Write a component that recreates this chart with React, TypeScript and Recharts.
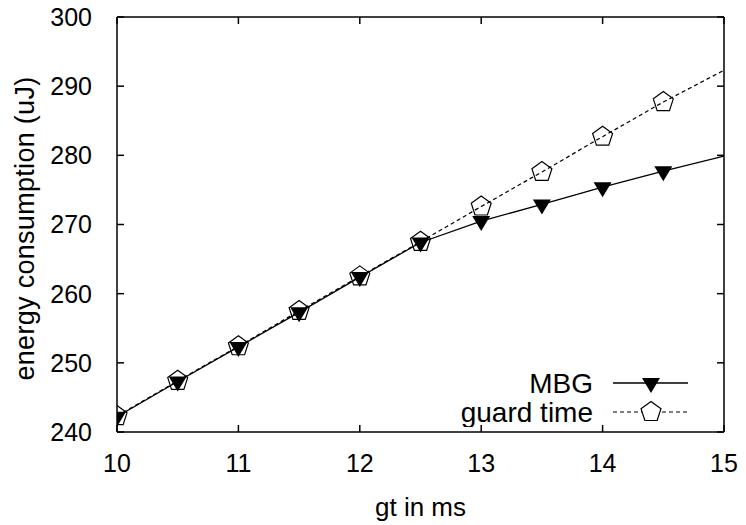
import { LineChart, Line, XAxis, YAxis, Legend } from "recharts";

// gt in ms (last row only carries the line to the border, no marker)
const gtValues = [10, 10.5, 11, 11.5, 12, 12.5, 13, 13.5, 14, 14.5, 15];
const mbgValues = [242.2, 247.3, 252.3, 257.3, 262.4, 267.4, 270.5, 272.9, 275.4, 277.7, 279.9];
const guardTimeValues = [242.3, 247.4, 252.4, 257.5, 262.5, 267.5, 272.6, 277.6, 282.7, 287.7, 292.3];
const markedPoints = 10;

const xTicks = [10, 11, 12, 13, 14, 15];
const yTicks = [240, 250, 260, 270, 280, 290, 300];
const seriesNames = ["MBG", "guard time"];
const xLabel = "gt in ms";
const yLabel = "energy consumption (uJ)";

const data = gtValues.map((gt, i) => ({
  gt,
  mbg: mbgValues[i],
  guard: guardTimeValues[i],
}));

const FONT = '"Liberation Sans", Arial, Helvetica, sans-serif';
const axisStroke = { stroke: "#000", strokeWidth: 1.5 };
const tickStyle = { fill: "#000", fontSize: 25, fontFamily: FONT };

function trianglePath(cx: number, cy: number) {
  return `M${cx - 9},${cy - 5}L${cx + 9},${cy - 5}L${cx},${cy + 10}Z`;
}

function pentagonPath(cx: number, cy: number, r = 10.5) {
  const pts = [0, 1, 2, 3, 4].map((k) => {
    const a = ((-90 + 72 * k) * Math.PI) / 180;
    return `${cx + r * Math.cos(a)},${cy + r * Math.sin(a)}`;
  });
  return `M${pts.join("L")}Z`;
}

function renderTriangle(props: any) {
  const { cx, cy, index } = props;
  if (index >= markedPoints || cx == null) return <g key={`t-${index}`} />;
  return <path key={`t-${index}`} d={trianglePath(cx, cy)} fill="#000" />;
}

function renderPentagon(props: any) {
  const { cx, cy, index } = props;
  if (index >= markedPoints || cx == null) return <g key={`p-${index}`} />;
  return <path key={`p-${index}`} d={pentagonPath(cx, cy)} fill="none" stroke="#000" strokeWidth={1.2} />;
}

function renderYLabel(props: any) {
  const vb = props.viewBox || { x: 0, y: 17, width: 117, height: 415 };
  const x = vb.x + 34;
  const y = vb.y + vb.height / 2 + 4;
  return (
    <text
      x={x}
      y={y}
      transform={`rotate(-90, ${x}, ${y})`}
      textAnchor="middle"
      fill="#000"
      fontSize={27}
      letterSpacing={0.3}
      fontFamily={FONT}
    >
      {yLabel}
    </text>
  );
}

function ChartLegend() {
  const text = { fill: "#000", fontSize: 28, fontFamily: FONT };
  return (
    <svg width={330} height={62} style={{ display: "block" }}>
      <text x={203} y={18} textAnchor="end" dominantBaseline="central" {...text}>
        {seriesNames[0]}
      </text>
      <line x1={223} x2={298} y1={18} y2={18} stroke="#000" strokeWidth={1.3} />
      <path d={trianglePath(261, 18)} fill="#000" />
      <text x={203} y={47} textAnchor="end" dominantBaseline="central" {...text}>
        {seriesNames[1]}
      </text>
      <line x1={223} x2={298} y1={47} y2={47} stroke="#000" strokeWidth={1.2} strokeDasharray="4 3" />
      <path d={pentagonPath(261, 47)} fill="#fff" stroke="#000" strokeWidth={1.2} />
    </svg>
  );
}

export default function App() {
  return (
    <div style={{ position: "absolute", left: 0, top: 0, background: "#fff" }}>
      <LineChart width={746} height={525} data={data} margin={{ top: 0, right: 0, bottom: 0, left: 0 }}>
        <XAxis
          xAxisId="bottom"
          dataKey="gt"
          type="number"
          domain={[10, 15]}
          ticks={xTicks}
          allowDataOverflow
          height={93}
          tickSize={-7}
          tickMargin={29}
          axisLine={axisStroke}
          tickLine={axisStroke}
          tick={tickStyle}
          label={{ value: xLabel, position: "insideBottom", offset: 9, fill: "#000", fontSize: 26, fontFamily: FONT }}
        />
        <XAxis
          xAxisId="top"
          orientation="top"
          dataKey="gt"
          type="number"
          domain={[10, 15]}
          ticks={xTicks}
          allowDataOverflow
          height={17}
          tickSize={-7}
          axisLine={axisStroke}
          tickLine={axisStroke}
          tick={() => <g />}
        />
        <YAxis
          yAxisId="left"
          type="number"
          domain={[240, 300]}
          ticks={yTicks}
          allowDataOverflow
          width={117}
          tickSize={-7}
          tickMargin={32}
          axisLine={axisStroke}
          tickLine={axisStroke}
          tick={tickStyle}
          label={renderYLabel}
        />
        <YAxis
          yAxisId="right"
          orientation="right"
          type="number"
          domain={[240, 300]}
          ticks={yTicks}
          allowDataOverflow
          width={22}
          tickSize={-7}
          axisLine={axisStroke}
          tickLine={axisStroke}
          tick={() => <g />}
        />
        <Legend
          layout="horizontal"
          verticalAlign="middle"
          align="center"
          content={() => <ChartLegend />}
          wrapperStyle={{ position: "absolute", left: 390, top: 365, width: 330, height: 62 }}
        />
        <Line
          xAxisId="bottom"
          yAxisId="left"
          dataKey="mbg"
          name={seriesNames[0]}
          stroke="#000"
          strokeWidth={1.3}
          dot={renderTriangle}
          activeDot={false}
          isAnimationActive={false}
        />
        <Line
          xAxisId="bottom"
          yAxisId="left"
          dataKey="guard"
          name={seriesNames[1]}
          stroke="#000"
          strokeWidth={1.2}
          strokeDasharray="4 3"
          dot={renderPentagon}
          activeDot={false}
          isAnimationActive={false}
        />
      </LineChart>
    </div>
  );
}
